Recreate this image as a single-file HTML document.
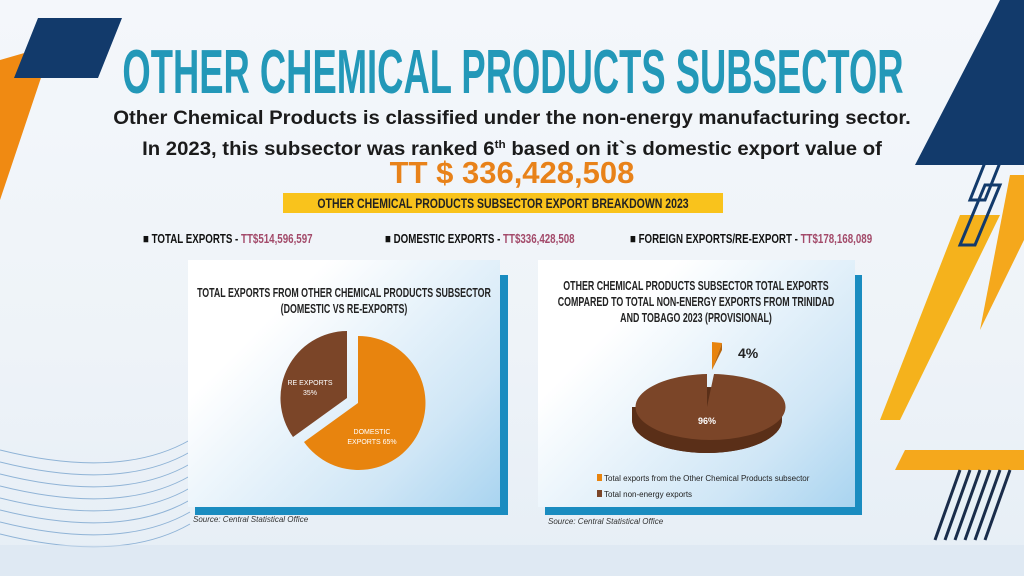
<!DOCTYPE html>
<html><head><meta charset="utf-8"><style>
body{margin:0;width:1024px;height:576px;overflow:hidden;background:linear-gradient(180deg,#f4f7fb 0%,#eef3f8 60%,#e6eef6 100%);font-family:"Liberation Sans",sans-serif;position:relative}
.abs{position:absolute}
.c{position:absolute;white-space:nowrap;text-align:center}
</style></head><body>
<svg class="abs" style="left:0;top:0" width="1024" height="576">
  <polygon points="0,60 52,45 0,200" fill="#f08a12"/>
  <polygon points="38,18 122,18 98,78 14,78" fill="#123a6b"/>
  <polygon points="1000,0 1024,0 1024,165 915,165 990,20" fill="#123a6b"/>
  <polygon points="1010,175 1024,175 1024,240 980,330" fill="#f5a81c"/>
  <polygon points="960,215 1000,215 900,420 880,420" fill="#f5b21c"/>
  <g fill="none" stroke="#123a6b" stroke-width="3">
    <polygon points="990,150 1005,150 985,200 970,200"/>
    <polygon points="985,185 1000,185 975,245 960,245"/>
  </g>
  <polygon points="905,450 1024,450 1024,470 895,470" fill="#f5a81c"/>
  <g stroke="#1a2c4a" stroke-width="3">
    <line x1="935" y1="540" x2="960" y2="470"/><line x1="945" y1="540" x2="970" y2="470"/>
    <line x1="955" y1="540" x2="980" y2="470"/><line x1="965" y1="540" x2="990" y2="470"/>
    <line x1="975" y1="540" x2="1000" y2="470"/><line x1="985" y1="540" x2="1010" y2="470"/>
  </g>
  <g fill="none" stroke="#8fb3d6" stroke-width="1">
    <path d="M0,450 Q120,480 190,440"/><path d="M0,462 Q120,492 190,452"/>
    <path d="M0,474 Q120,504 190,464"/><path d="M0,486 Q120,516 190,476"/>
    <path d="M0,498 Q120,528 190,488"/><path d="M0,510 Q120,540 190,500"/>
    <path d="M0,522 Q120,552 190,512"/><path d="M0,534 Q120,564 190,524"/>
  </g>
  <rect x="0" y="545" width="1024" height="31" fill="#d8e3ef" opacity="0.5"/>
</svg>

<div class="c" style="left:513px;top:41px;transform:translateX(-50%) scaleX(0.587);color:#2398b8;font-weight:bold;font-size:62px;line-height:64px">OTHER CHEMICAL PRODUCTS SUBSECTOR</div>
<div class="c" style="left:512px;top:105px;transform:translateX(-50%) scaleX(1.07);color:#1b1b1b;font-weight:bold;font-size:19px;line-height:27px">Other Chemical Products is classified under the non-energy manufacturing sector.</div>
<div class="c" style="left:512px;top:132px;transform:translateX(-50%) scaleX(1.07);color:#1b1b1b;font-weight:bold;font-size:19px;line-height:27px">In 2023, this subsector was ranked 6<span style="font-size:11px;vertical-align:7px">th</span> based on it`s domestic export value of</div>
<div class="c" style="left:512px;top:156px;transform:translateX(-50%);color:#e8821a;font-weight:bold;font-size:31px;line-height:34px">TT $ 336,428,508</div>
<div class="abs" style="left:283px;top:193px;width:440px;height:20px;background:#f9c31c"></div>
<div class="c" style="left:503px;top:193px;transform:translateX(-50%) scaleX(0.75);font-weight:bold;font-size:14px;line-height:21px;color:#222">OTHER CHEMICAL PRODUCTS SUBSECTOR EXPORT BREAKDOWN 2023</div>

<div class="abs" style="top:231px;left:143px;font-size:13px;font-weight:bold;color:#111;line-height:16px;white-space:nowrap;transform:scaleX(0.75);transform-origin:left">■ TOTAL EXPORTS - <span style="color:#a34a6a">TT$514,596,597</span></div>
<div class="abs" style="top:231px;left:385px;font-size:13px;font-weight:bold;color:#111;line-height:16px;white-space:nowrap;transform:scaleX(0.75);transform-origin:left">■ DOMESTIC EXPORTS - <span style="color:#a34a6a">TT$336,428,508</span></div>
<div class="abs" style="top:231px;left:630px;font-size:13px;font-weight:bold;color:#111;line-height:16px;white-space:nowrap;transform:scaleX(0.75);transform-origin:left">■ FOREIGN EXPORTS/RE-EXPORT - <span style="color:#a34a6a">TT$178,168,089</span></div>

<!-- left panel -->
<div class="abs" style="left:195px;top:275px;width:313px;height:240px;background:#1a8cc0"></div>
<div class="abs" style="left:188px;top:260px;width:312px;height:247px;background:linear-gradient(135deg,#ffffff 25%,#cfe6f6 75%,#a9d4f0 100%)"></div>
<div class="c" style="left:344px;top:285px;transform:translateX(-50%) scaleX(0.68);font-size:13px;font-weight:bold;color:#222;line-height:16px">TOTAL EXPORTS FROM OTHER CHEMICAL PRODUCTS SUBSECTOR<br>(DOMESTIC VS RE-EXPORTS)</div>
<svg class="abs" style="left:188px;top:260px" width="312" height="247">
  <path d="M170,143 L170,76 A67,67 0 1,1 116,182 Z" fill="#e8840e"/>
  <path d="M159,138 L105,177 A67,67 0 0,1 159,71 Z" fill="#7b4528"/>
  <text x="122" y="125" font-size="7" fill="#fff" text-anchor="middle">RE EXPORTS</text>
  <text x="122" y="135" font-size="7" fill="#fff" text-anchor="middle">35%</text>
  <text x="184" y="174" font-size="7" fill="#fff" text-anchor="middle">DOMESTIC</text>
  <text x="184" y="184" font-size="7" fill="#fff" text-anchor="middle">EXPORTS 65%</text>
</svg>
<div class="abs" style="left:193px;top:515px;font-size:8px;font-style:italic;color:#333">Source: Central Statistical Office</div>

<!-- right panel -->
<div class="abs" style="left:545px;top:275px;width:317px;height:240px;background:#1a8cc0"></div>
<div class="abs" style="left:538px;top:260px;width:317px;height:247px;background:linear-gradient(135deg,#ffffff 25%,#cfe6f6 75%,#a9d4f0 100%)"></div>
<div class="c" style="left:696px;top:278px;transform:translateX(-50%) scaleX(0.68);font-size:13px;font-weight:bold;color:#222;line-height:16px">OTHER CHEMICAL PRODUCTS SUBSECTOR TOTAL EXPORTS<br>COMPARED TO TOTAL NON-ENERGY EXPORTS FROM TRINIDAD<br>AND TOBAGO 2023 (PROVISIONAL)</div>
<svg class="abs" style="left:538px;top:260px" width="317" height="247">
  <path d="M94,147 L94,160 A75,33 0 0,0 244,160 L244,147 Z" fill="#5a2f18"/>
  <ellipse cx="169" cy="160" rx="75" ry="33" fill="#5a2f18"/>
  <path d="M169,147 L169,114 A75,33 0 1,0 176,114 Z" fill="#7b4528"/>
  <path d="M174,110 L174,82 L184,83 Z" fill="#e8840e"/>
  <path d="M174,110 L184,83 L184,90 Z" fill="#b9650a"/>
  <text x="169" y="164" font-size="9" font-weight="bold" fill="#fff" text-anchor="middle">96%</text>
  <text x="200" y="98" font-size="14" font-weight="bold" fill="#222">4%</text>
  <rect x="59" y="214" width="5" height="7" fill="#e8840e"/>
  <text x="66" y="221" font-size="8" fill="#222">Total exports from the Other Chemical Products subsector</text>
  <rect x="59" y="230" width="5" height="7" fill="#7b4528"/>
  <text x="66" y="237" font-size="8" fill="#222">Total non-energy exports</text>
</svg>
<div class="abs" style="left:548px;top:517px;font-size:8px;font-style:italic;color:#333">Source: Central Statistical Office</div>
</body></html>
